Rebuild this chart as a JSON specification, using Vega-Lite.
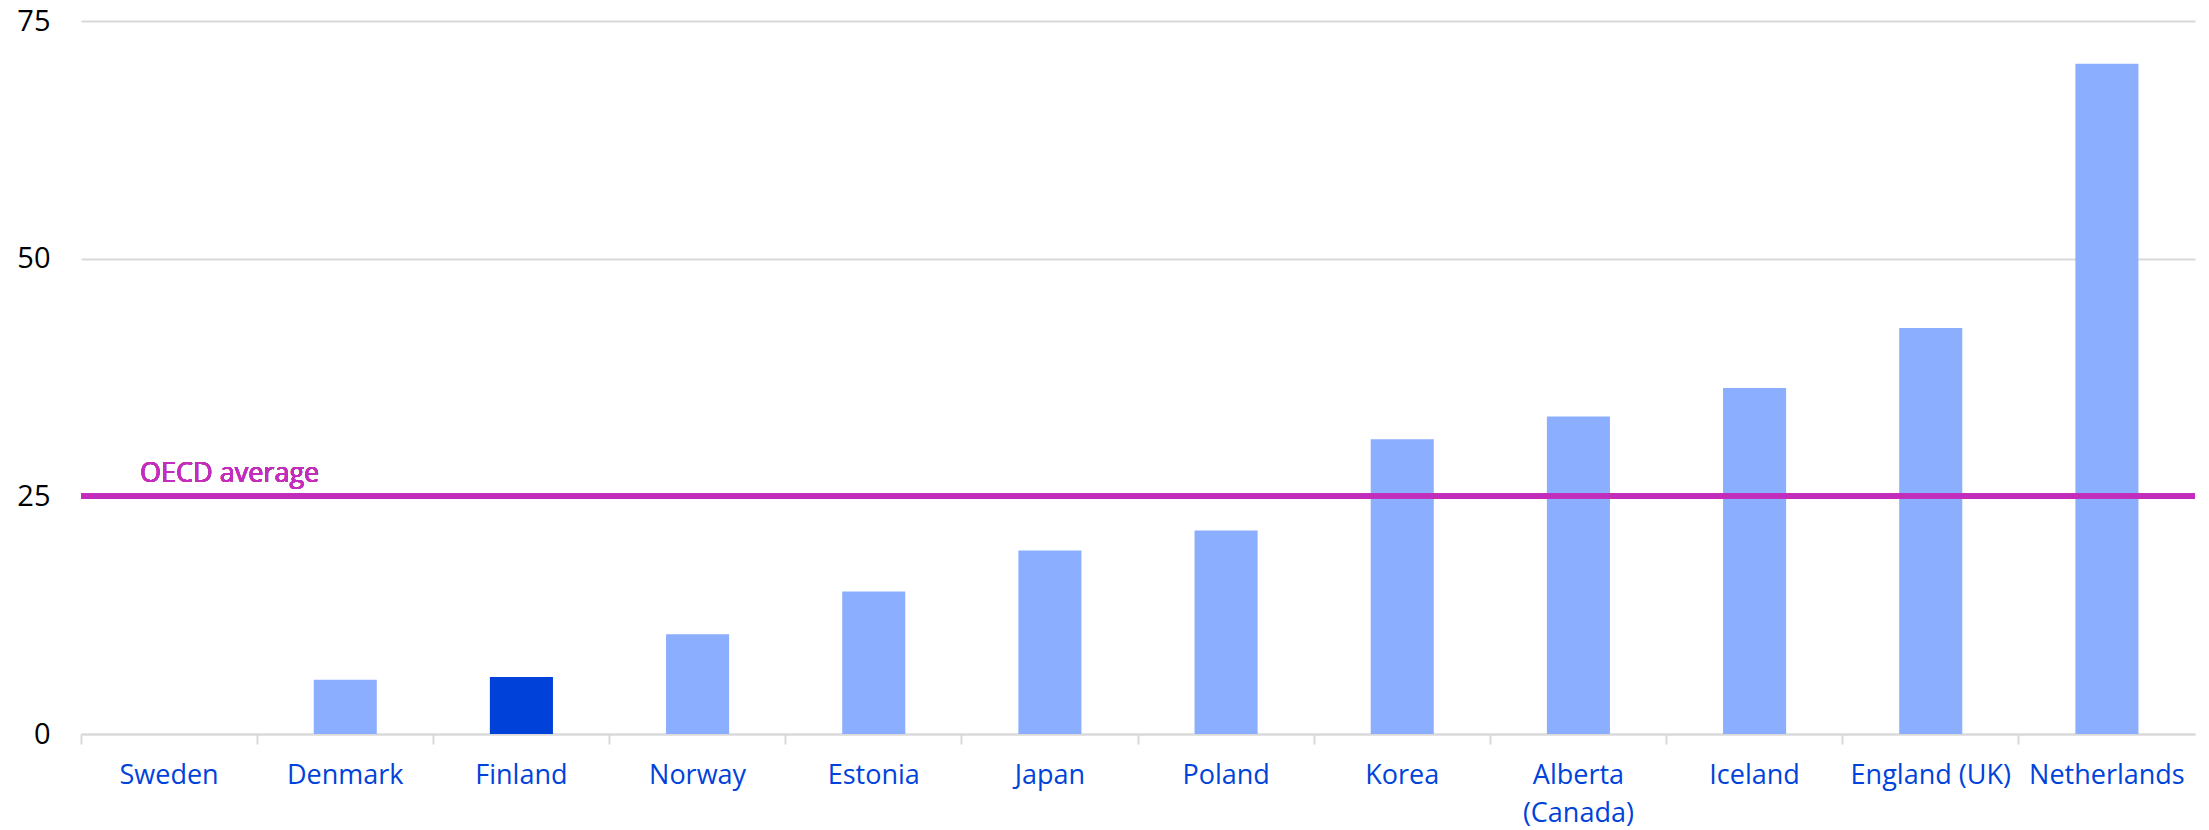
{
  "$schema": "https://vega.github.io/schema/vega-lite/v6.json",
  "width": 2114,
  "height": 713,
  "autosize": {"type": "none"},
  "padding": {"left": 81, "top": 21, "right": 14, "bottom": 96},
  "background": "white",
  "config": {
    "view": {"stroke": null},
    "font": "Open Sans"
  },
  "data": {
    "values": [
      {"country": "Sweden", "value": 0},
      {"country": "Denmark", "value": 5.7},
      {"country": "Finland", "value": 6.0},
      {"country": "Norway", "value": 10.5},
      {"country": "Estonia", "value": 15.0},
      {"country": "Japan", "value": 19.3},
      {"country": "Poland", "value": 21.4},
      {"country": "Korea", "value": 31.0},
      {"country": "Alberta (Canada)", "value": 33.4},
      {"country": "Iceland", "value": 36.4},
      {"country": "England (UK)", "value": 42.7},
      {"country": "Netherlands", "value": 70.5}
    ]
  },
  "layer": [
    {
      "mark": {"type": "bar", "width": {"band": 0.358}},
      "encoding": {
        "x": {
          "field": "country",
          "type": "nominal",
          "sort": null,
          "scale": {"paddingInner": 0, "paddingOuter": 0},
          "axis": {
            "title": null,
            "bandPosition": 0,
            "labelAngle": 0,
            "labelFont": "Open Sans",
            "labelFontSize": 27,
            "labelColor": "#0043DA",
            "labelPadding": 18,
            "labelLineHeight": 38,
            "labelBaseline": "top",
            "labelExpr": "datum.label == 'Alberta (Canada)' ? ['Alberta', '(Canada)'] : datum.label",
            "ticks": true,
            "tickSize": 10,
            "tickColor": "#d9d9d9",
            "tickWidth": 2,
            "domainColor": "#d9d9d9",
            "domainWidth": 2,
            "grid": false
          }
        },
        "y": {
          "field": "value",
          "type": "quantitative",
          "scale": {"domain": [0, 75], "nice": false},
          "axis": {
            "title": null,
            "values": [0, 25, 50, 75],
            "labelFont": "Open Sans",
            "labelFontSize": 29,
            "labelColor": "#000000",
            "labelPadding": 31,
            "ticks": false,
            "tickSize": 0,
            "domain": false,
            "grid": true,
            "gridColor": "#d9d9d9",
            "gridWidth": 2
          }
        },
        "color": {
          "condition": {"test": "datum.country === 'Finland'", "value": "#0041D9"},
          "value": "#8CAEFF"
        }
      }
    },
    {
      "mark": {"type": "rule", "color": "#C22EBB", "strokeWidth": 5},
      "encoding": {"y": {"datum": 25, "type": "quantitative"}}
    },
    {
      "mark": {
        "type": "text",
        "text": "OECD average",
        "font": "Open Sans",
        "fontSize": 27,
        "color": "#C22EBB",
        "align": "left",
        "baseline": "alphabetic",
        "dx": -29,
        "dy": -14
      },
      "encoding": {
        "x": {"datum": "Sweden", "type": "nominal"},
        "y": {"datum": 25, "type": "quantitative"}
      }
    }
  ]
}
